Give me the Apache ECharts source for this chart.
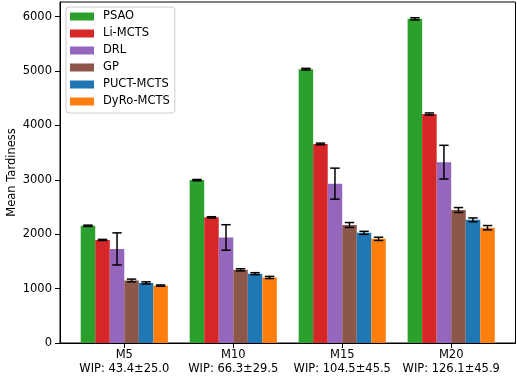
<!DOCTYPE html>
<html>
<head>
<meta charset="utf-8">
<script src="https://cdn.jsdelivr.net/npm/echarts@6/dist/echarts.min.js"></script>
<style>
  html, body { margin: 0; padding: 0; background: #fff; }
  #chart { width: 517px; height: 376px; }
</style>
</head>
<body>
<div id="chart"></div>
<script>
// Machine configurations and their work-in-progress statistics
const categories = ['M5', 'M10', 'M15', 'M20'];
const wipLabels = ['WIP: 43.4\u00b125.0', 'WIP: 66.3\u00b129.5', 'WIP: 104.5\u00b145.5', 'WIP: 126.1\u00b145.9'];

// Methods compared (legend order)
const methods = ['PSAO', 'Li-MCTS', 'DRL', 'GP', 'PUCT-MCTS', 'DyRo-MCTS'];
const colors = ['#2ca02c', '#d62728', '#9467bd', '#8c564b', '#1f77b4', '#ff7f0e'];

// Mean tardiness per method, one value per configuration
const psao     = [2155, 2995, 5035, 5960];
const liMcts   = [1895, 2310, 3660, 4210];
const drl      = [1730, 1940, 2930, 3325];
const gp       = [1150, 1345, 2170, 2445];
const puctMcts = [1105, 1275, 2025, 2265];
const dyroMcts = [1055, 1205, 1915, 2120];

// Standard deviations (error bars)
const psaoErr     = [12, 12, 15, 20];
const liMctsErr   = [10, 12, 15, 20];
const drlErr      = [295, 235, 285, 310];
const gpErr       = [25, 20, 45, 45];
const puctMctsErr = [20, 18, 28, 35];
const dyroMctsErr = [12, 20, 30, 40];

const means = [psao, liMcts, drl, gp, puctMcts, dyroMcts];
const errs = [psaoErr, liMctsErr, drlErr, gpErr, puctMctsErr, dyroMctsErr];

const groupWidth = 0.8;
const barW = groupWidth / methods.length;
const FONT = 'DejaVu Sans';

function makeRender(seriesIdx) {
  const offset = (seriesIdx - (methods.length - 1) / 2) * barW;
  const color = colors[seriesIdx];
  return function (params, api) {
    const x = api.value(0) + offset;
    const v = api.value(1);
    const e = api.value(2);
    const left = api.coord([x - barW / 2, v]);
    const right = api.coord([x + barW / 2, 0]);
    const center = api.coord([x, v]);
    const hi = api.coord([x, v + e]);
    const lo = api.coord([x, v - e]);
    const cap = 4.7;
    const eStyle = { stroke: '#000', lineWidth: 1.5 };
    return {
      type: 'group',
      children: [
        {
          type: 'rect',
          shape: { x: left[0], y: left[1], width: right[0] - left[0], height: right[1] - left[1] },
          style: { fill: color }
        },
        { type: 'line', shape: { x1: center[0], y1: hi[1], x2: center[0], y2: lo[1] }, style: eStyle },
        { type: 'line', shape: { x1: center[0] - cap, y1: hi[1], x2: center[0] + cap, y2: hi[1] }, style: eStyle },
        { type: 'line', shape: { x1: center[0] - cap, y1: lo[1], x2: center[0] + cap, y2: lo[1] }, style: eStyle }
      ]
    };
  };
}

const series = methods.map((name, i) => ({
  name: name,
  type: 'custom',
  renderItem: makeRender(i),
  encode: { x: 0, y: 1 },
  itemStyle: { color: colors[i] },
  data: means[i].map((v, k) => [k, v, errs[i][k]]),
  animation: false
}));

const chart = echarts.init(document.getElementById('chart'), null, { renderer: 'canvas' });
chart.setOption({
  animation: false,
  textStyle: { fontFamily: FONT },
  grid: { left: 60, right: 1.5, top: 2, bottom: 33, containLabel: false, outerBoundsMode: 'none',
          show: true, borderColor: '#000', borderWidth: 1, backgroundColor: 'transparent' },
  legend: {
    orient: 'vertical',
    left: 66, top: 7,
    data: methods,
    icon: 'rect',
    itemWidth: 24, itemHeight: 8,
    itemGap: 4,
    padding: [3, 5, 5, 4],
    backgroundColor: '#fff',
    borderColor: '#cccccc', borderWidth: 1, borderRadius: 3,
    textStyle: { fontFamily: FONT, fontSize: 11.5, color: '#000', lineHeight: 13, padding: [0, 0, 0, 4] }
  },
  xAxis: {
    type: 'value',
    min: -0.59, max: 3.59,
    splitLine: { show: false },
    axisLine: { show: true, onZero: false, lineStyle: { color: '#000', width: 1 } },
    axisTick: { show: true, customValues: [0, 1, 2, 3], length: 5, lineStyle: { color: '#000' } },
    axisLabel: {
      customValues: [0, 1, 2, 3],
      formatter: v => categories[Math.round(v)] + '\n' + wipLabels[Math.round(v)],
      fontFamily: FONT, fontSize: 11.5, color: '#000', lineHeight: 14, margin: 5
    }
  },
  yAxis: {
    type: 'value',
    min: 0, max: 6270, interval: 1000,
    name: 'Mean Tardiness',
    nameLocation: 'middle',
    nameGap: 42,
    nameMoveOverlap: false,
    nameTextStyle: { fontFamily: FONT, fontSize: 11.5, color: '#000' },
    splitLine: { show: false },
    axisLine: { show: true, onZero: false, lineStyle: { color: '#000', width: 1 } },
    axisTick: { show: true, length: 5, lineStyle: { color: '#000' } },
    axisLabel: { fontFamily: FONT, fontSize: 11.5, color: '#000', margin: 8, showMaxLabel: false,
                 formatter: v => String(v) }
  },
  series: series
});
</script>
</body>
</html>
